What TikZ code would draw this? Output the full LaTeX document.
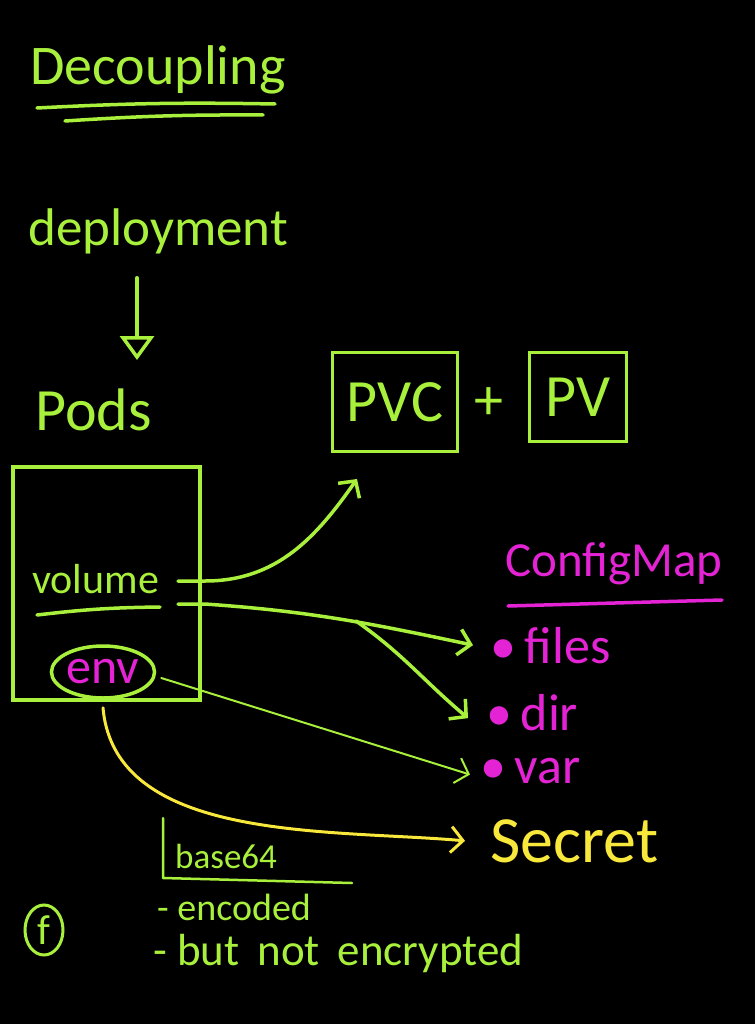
\documentclass[tikz,border=0pt]{standalone}
\usepackage{fontspec}
\setmainfont{Carlito}
\usetikzlibrary{shapes,arrows.meta}
\definecolor{chalk}{HTML}{A8F03C}
\definecolor{pinkish}{HTML}{E424D4}
\definecolor{yellowish}{HTML}{F8E83C}
\tikzstyle{hand}=[text=chalk,inner sep=0pt,anchor=base west]
\tikzstyle{cmap}=[text=pinkish,inner sep=0pt,anchor=base west,font=\fontsize{52}{52}\selectfont]
\tikzstyle{box}=[rectangle,draw=chalk,line width=3.5pt,text=chalk,inner sep=0pt,font=\fontsize{60}{60}\selectfont]
\tikzstyle{stroke}=[draw=chalk,line width=3.5pt,line cap=round,line join=round]
\tikzstyle{thin}=[draw=chalk,line width=2pt,line cap=round]
\tikzstyle{ystroke}=[draw=yellowish,line width=3pt,line cap=round]

\begin{document}
\begin{tikzpicture}[x=1pt,y=-1pt,>={Straight Barb[length=12pt,width=26pt]}]
  \fill[black] (0,0) rectangle (755,1024);
  \useasboundingbox (0,0) rectangle (755,1024);

  % left column
  \node[hand,font=\fontsize{56}{56}\selectfont] (title) at (30,85) {Decoupling};
  \node[hand,font=\fontsize{53}{53}\selectfont] (deployment) at (28,245) {deployment};
  \node[hand,font=\fontsize{60}{60}\selectfont] (pods) at (35,430) {Pods};
  \node[box,minimum width=187pt,minimum height=233pt] (podbox) at (106.5,583.5) {};
  \node[hand,font=\fontsize{42}{42}\selectfont] (volume) at (32,593) {volume};
  \node[ellipse,draw=chalk,line width=3.5pt,text=pinkish,inner sep=0pt,minimum width=98pt,minimum height=52pt,font=\fontsize{50}{50}\selectfont] (env) at (103,672) {env};

  % storage
  \node[box,minimum width=125pt,minimum height=99pt] (pvc) at (395,402) {PVC};
  \node[hand,anchor=center,font=\fontsize{58}{58}\selectfont] (plus) at (489,404) {+};
  \node[box,minimum width=97pt,minimum height=89pt] (pv) at (578,397) {PV};

  % config map
  \node[cmap,font=\fontsize{49}{49}\selectfont] (configmap) at (505,576) {ConfigMap};
  \node[cmap] (files) at (490,663) {\textbullet\,files};
  \node[cmap] (dir) at (486,730) {\textbullet\,dir};
  \node[cmap] (var) at (480,783) {\textbullet\,var};

  % secret
  \node[hand,text=yellowish,font=\fontsize{66}{66}\selectfont] (secret) at (490,862) {Secret};
  \node[hand,font=\fontsize{35}{35}\selectfont] (base64) at (175,868) {base64};
  \node[hand,font=\fontsize{38}{38}\selectfont] (encoded) at (157,920) {- encoded};
  \node[hand,font=\fontsize{45}{45}\selectfont] (encrypted) at (153,965) {- but\hspace{0.4em}not\hspace{0.4em}encrypted};
  \node[ellipse,draw=chalk,line width=3pt,text=chalk,inner sep=0pt,minimum width=38pt,minimum height=50pt,font=\fontsize{42}{42}\selectfont] (fb) at (44,930) {f};

  \coordinate (podsin) at (137,360);
  \coordinate (vtop) at (178,581);
  \coordinate (vbot) at (178,604);
  \coordinate (split) at (356,621);
  \coordinate (pvcin) at (357,479);

  \draw[stroke] (37,108) to[bend left=2] (275,104);
  \draw[stroke] (65,121) to[bend left=2] (263,115);
  \draw[stroke] (37,615) to[bend left=3] (160,607);
  \draw[draw=pinkish,line width=3.5pt,line cap=round] (508,606) -- (722,600);
  \draw[stroke,line width=2.5pt] (163,818) -- (163,878) -- (352,883);

  \draw[stroke,-{Triangle[open,length=24pt,width=34pt]}] (deployment.south -| podsin) ++(0,24) -- (podsin);
  \draw[stroke,->] (vtop) -- ++(27,0) to[out=0,in=235] (pvcin);
  \draw[stroke,->] (vbot) -- ++(27,0) to[out=-4,in=168] ([xshift=-17pt]files.west);
  \draw[stroke,->] (split) to[out=-35,in=140] ([xshift=-18pt,yshift=-6pt]dir.west);
  \draw[thin,->] (env.east) ++(5,6) -- ([xshift=-10pt,yshift=-4pt]var.west);
  \draw[ystroke,->] (env.south) ++(0,8) to[out=-85,in=175,looseness=0.9] ([xshift=-25pt]secret.west);
\end{tikzpicture}
\end{document}
